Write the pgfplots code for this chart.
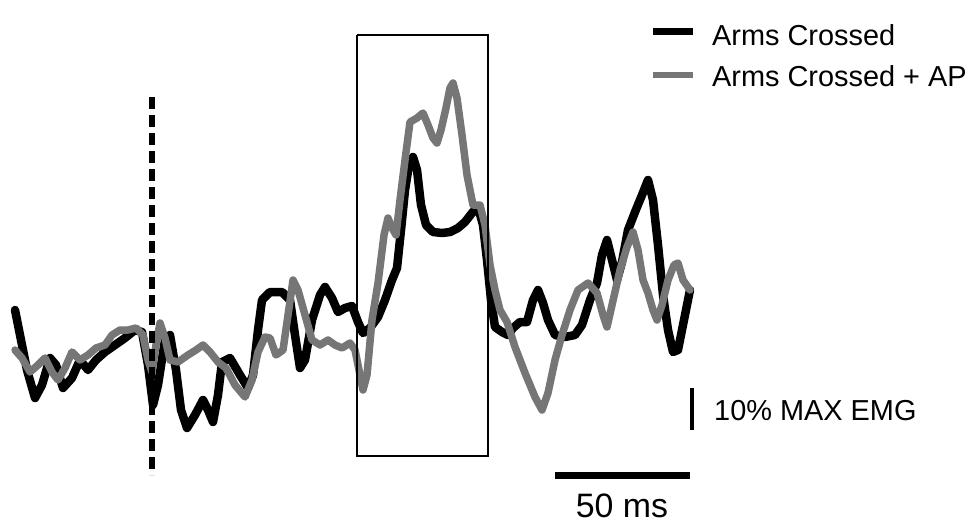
\documentclass[border=0pt]{standalone}
\usepackage{pgfplots}
\pgfplotsset{compat=1.18}
\usepackage{fontspec}
\setmainfont{Liberation Sans}
\definecolor{apgray}{RGB}{118,118,118}
\begin{document}
\begin{tikzpicture}
\begin{axis}[
  scale only axis, width=977bp, height=525bp,
  xmin=0, xmax=977, ymin=0, ymax=525, y dir=reverse,
  hide axis, clip=false,
]
\path (axis cs:0,0) rectangle (axis cs:977,525);
% Arms Crossed (black)
\addplot[black, line width=8.5bp, line join=round, line cap=round] coordinates {
(15,310) (20,335) (27,370) (35,398) (42,385) (50,358) (56,365) (63,388) (72,378) (80,360) (88,370) (96,360) (105,352) (115,345) (125,338) (135,330) (142,332) (148,365) (153,405) (158,385) (165,340) (170,335) (176,370) (181,410) (187,428) (195,415) (203,400) (208,410) (213,422) (218,395) (222,362) (230,358) (240,375) (248,388) (253,375) (258,330) (262,300) (270,292) (282,292) (290,300) (295,335) (300,368) (305,360) (312,320) (320,295) (325,287) (332,298) (338,312) (345,308) (352,306) (358,322) (363,333) (370,328) (378,317) (385,300) (392,280) (397,268) (401,230) (405,190) (409,165) (413,157) (417,170) (421,205) (426,225) (433,232) (442,233) (450,232) (458,228) (465,222) (472,213) (478,207) (483,225) (487,260) (491,300) (495,327) (502,332) (508,335) (513,328) (520,322) (527,322) (533,300) (538,290) (543,303) (548,320) (555,335) (565,337) (575,335) (582,325) (590,300) (597,283) (602,255) (607,240) (612,260) (617,280) (622,262) (628,230) (635,212) (642,195) (648,180) (653,200) (658,245) (663,295) (668,330) (673,352) (678,350) (683,325) (690,290)
};
% Arms Crossed + AP (gray)
\addplot[apgray, line width=7.5bp, line join=round, line cap=round] coordinates {
(15,350) (22,358) (30,372) (38,365) (45,358) (52,372) (58,380) (65,368) (72,352) (80,360) (88,355) (96,348) (105,345) (112,335) (120,330) (128,330) (136,328) (143,335) (148,360) (152,372) (156,345) (160,323) (165,338) (170,360) (178,362) (188,355) (196,350) (203,345) (210,352) (218,362) (226,368) (235,385) (245,397) (252,380) (258,352) (265,337) (270,338) (276,355) (283,350) (288,315) (293,280) (298,290) (305,315) (312,340) (320,345) (328,340) (335,345) (342,348) (350,343) (355,350) (360,375) (363,390) (367,375) (372,320) (378,283) (384,235) (388,218) (392,228) (396,235) (400,200) (405,160) (410,122) (417,118) (423,113) (428,125) (433,138) (437,143) (441,130) (446,108) (450,88) (453,83) (457,98) (462,135) (467,175) (473,205) (480,205) (485,225) (490,265) (495,290) (500,310) (507,322) (515,347) (525,373) (535,397) (542,410) (548,393) (555,360) (562,335) (570,310) (578,290) (588,283) (597,293) (603,315) (607,327) (612,305) (620,270) (627,247) (633,232) (638,250) (643,280) (648,293) (653,310) (657,320) (662,305) (668,280) (674,265) (678,263) (683,280) (690,290)
};
% dashed onset line
\addplot[black, line width=6bp, dash pattern=on 12bp off 6bp] coordinates {(152,97) (152,475)};
% window rectangle
\addplot[black, line width=1.2bp] coordinates {(357,35) (488,35) (488,456) (357,456) (357,35)};
% scale bars
\addplot[black, line width=4.5bp] coordinates {(692,388) (692,430)};
\addplot[black, line width=7bp] coordinates {(555,475) (690,475)};
% legend samples
\addplot[black, line width=7bp] coordinates {(653,32) (693,32)};
\addplot[apgray, line width=6bp] coordinates {(653,75) (693,75)};
\node[anchor=base west, inner sep=0pt, font=\fontsize{29}{31}\selectfont] at (axis cs:712,46) {Arms Crossed};
\node[anchor=base west, inner sep=0pt, font=\fontsize{29}{31}\selectfont] at (axis cs:712,87) {Arms Crossed + AP};
\node[anchor=base west, inner sep=0pt, font=\fontsize{29}{31}\selectfont] at (axis cs:714,420) {10\% MAX EMG};
\node[anchor=base, inner sep=0pt, font=\fontsize{34}{36}\selectfont] at (axis cs:622,517) {50 ms};
\end{axis}
\end{tikzpicture}
\end{document}
